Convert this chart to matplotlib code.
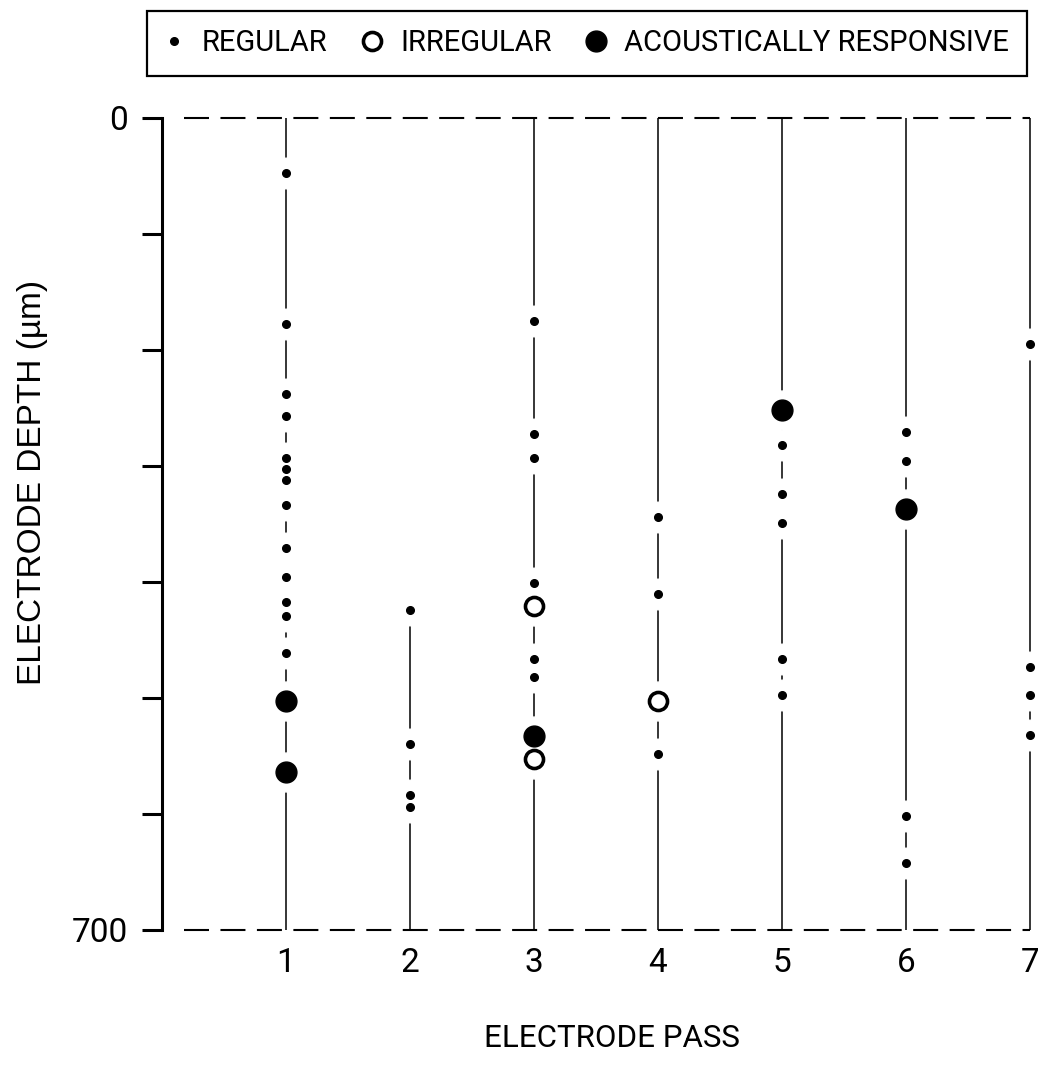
import matplotlib.pyplot as plt
from matplotlib.lines import Line2D

plt.rcParams['font.family'] = ['Roboto', 'DejaVu Sans']

# electrode passes and where each recording track begins (um)
passes = [1, 2, 3, 4, 5, 6, 7]
track_start = [0, 424, 0, 0, 0, 0, 0]
track_end = 700

# regular units
reg_pass = [1] * 13 + [2] * 4 + [3] * 6 + [4] * 3 + [5] * 5 + [6] * 4 + [7] * 4
reg_depth = [47, 178, 238, 257, 293, 303, 312, 334, 371, 396, 417, 429, 461,
             424, 540, 584, 594,
             175, 272, 293, 401, 466, 482,
             344, 410, 548,
             282, 324, 349, 466, 497,
             271, 296, 602, 642,
             195, 473, 497, 532]

# irregular units
irr_pass = [3, 3, 4]
irr_depth = [421, 553, 503]

# acoustically responsive units
ac_pass = [1, 1, 3, 5, 6]
ac_depth = [503, 564, 533, 252, 337]

fig = plt.figure(figsize=(10.38, 10.68), dpi=100)
ax = fig.add_axes([162 / 1038, 1 - 930 / 1068, 868 / 1038, 812 / 1068])

# tracks
for p, s in zip(passes, track_start):
    ax.plot([p, p], [s, track_end], color='black', lw=1.1, zorder=1,
            solid_capstyle='butt', clip_on=False)

# white gaps in the track around each unit
ax.plot(reg_pass, reg_depth, 'o', ms=22, color='white', zorder=2, clip_on=False)
ax.plot(irr_pass + ac_pass, irr_depth + ac_depth, 'o', ms=28, color='white',
        zorder=2, clip_on=False)

ax.plot(reg_pass, reg_depth, 'o', ms=5.5, color='black', zorder=3, clip_on=False)
ax.plot(irr_pass, irr_depth, 'o', ms=13, mfc='white', mec='black', mew=2.6,
        zorder=3, clip_on=False)
ax.plot(ac_pass, ac_depth, 'o', ms=15, color='black', zorder=3, clip_on=False)

# dashed surface and bottom lines
for d in (0, 700):
    ax.plot([0.177, 7], [d, d], color='black', lw=1.5, dashes=(12, 5.5),
            zorder=1, clip_on=False)

ax.set_xlim(0, 7)
ax.set_ylim(700, 0)

for side in ('top', 'right', 'bottom'):
    ax.spines[side].set_visible(False)
ax.spines['left'].set_linewidth(2.2)

ax.set_yticks(range(0, 701, 100))
ax.set_yticklabels(['0', '', '', '', '', '', '', '700'])
ax.tick_params(axis='y', direction='out', length=14.5, width=2.2, pad=10,
               labelsize=24)
ax.set_xticks(passes)
ax.set_xticklabels([str(p) for p in passes])
ax.tick_params(axis='x', length=0, pad=12, labelsize=24)

fig.text(0.031, 0.548, 'ELECTRODE DEPTH (\u00b5m)', rotation=90,
         ha='center', va='center', fontsize=24, family='Liberation Sans')
fig.text(0.59, 0.028, 'ELECTRODE PASS', ha='center', va='center', fontsize=22.5)

handles = [
    Line2D([], [], ls='none', marker='o', ms=5.5, color='black'),
    Line2D([], [], ls='none', marker='o', ms=13, mfc='white', mec='black', mew=2.6),
    Line2D([], [], ls='none', marker='o', ms=15, color='black'),
]
leg = fig.legend(handles, ['REGULAR', 'IRREGULAR', 'ACOUSTICALLY RESPONSIVE'],
                 loc='center right', bbox_to_anchor=(1027 / 1038, 0.9593), ncol=3,
                 fontsize=21, frameon=True, fancybox=False, framealpha=1,
                 edgecolor='black', handlelength=0.6, handletextpad=0.66,
                 columnspacing=1.23, borderpad=0.62, borderaxespad=0)
leg.get_frame().set_linewidth(1.6)

fig.savefig('out.png', dpi=100)
